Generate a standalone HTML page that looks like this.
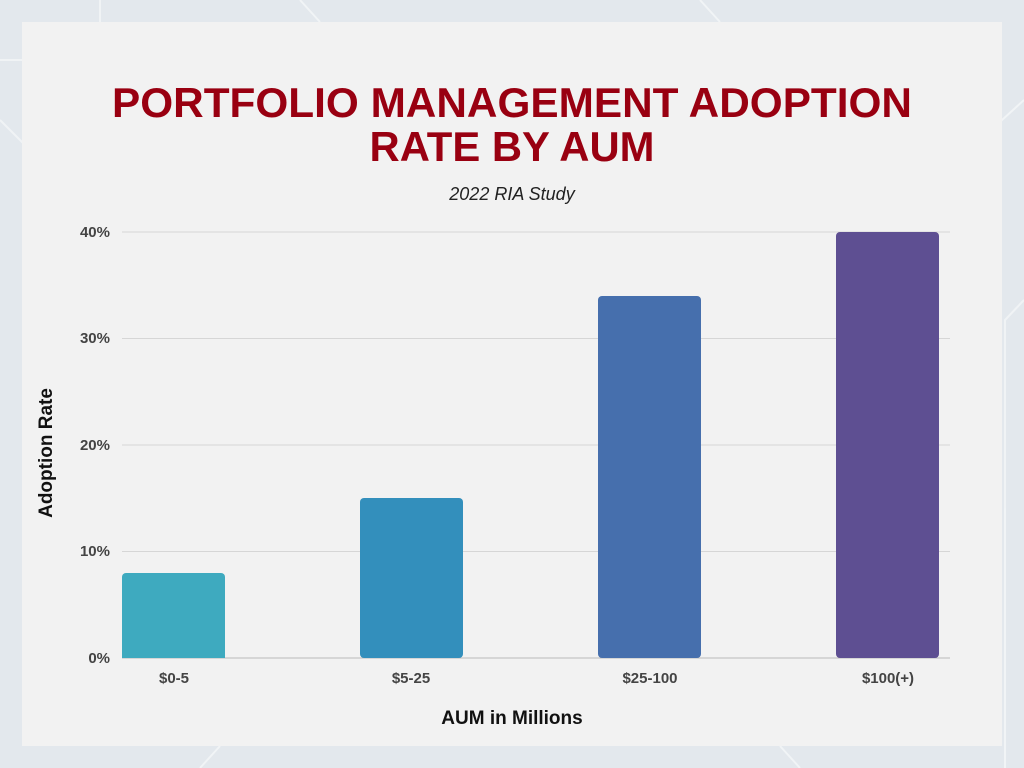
<!DOCTYPE html>
<html><head><meta charset="utf-8"><style>
html,body{margin:0;padding:0;width:1024px;height:768px;overflow:hidden;background:#e4e9ee;}
</style></head><body>
<svg width="1024" height="768" xmlns="http://www.w3.org/2000/svg" font-family="Liberation Sans, sans-serif">
<rect x="0" y="0" width="1024" height="768" fill="#e3e8ed"/>
<g stroke="#f4f6f8" stroke-width="2" fill="none" opacity="0.8">
<path d="M0 60 L60 60 L90 90 L90 300"/><path d="M0 120 L40 160 L40 700"/><path d="M1024 100 L980 140 L980 500"/><path d="M1024 300 L1005 320 L1005 768"/><path d="M100 0 L100 22"/><path d="M300 0 L320 22"/><path d="M700 0 L720 22"/><path d="M200 768 L220 746"/><path d="M800 768 L780 746"/>
</g>
<rect x="22" y="22" width="980" height="724" fill="#f2f2f2"/>
<text x="512" y="117" text-anchor="middle" font-size="42" font-weight="bold" fill="#990011" textLength="800" lengthAdjust="spacingAndGlyphs">PORTFOLIO MANAGEMENT ADOPTION</text>
<text x="512" y="161" text-anchor="middle" font-size="42" font-weight="bold" fill="#990011" textLength="285" lengthAdjust="spacingAndGlyphs">RATE BY AUM</text>
<text x="512" y="200" text-anchor="middle" font-size="18" font-style="italic" fill="#222">2022 RIA Study</text>
<g stroke="#d6d6d6" stroke-width="1">
<line x1="122" y1="232" x2="950" y2="232"/><line x1="122" y1="338.5" x2="950" y2="338.5"/><line x1="122" y1="445" x2="950" y2="445"/><line x1="122" y1="551.5" x2="950" y2="551.5"/><line x1="122" y1="658" x2="950" y2="658" stroke="#bbb"/>
</g>
<g font-size="15" font-weight="bold" fill="#444" text-anchor="end">
<text x="110" y="237">40%</text><text x="110" y="343">30%</text><text x="110" y="450">20%</text><text x="110" y="556">10%</text><text x="110" y="663">0%</text>
</g>
<rect x="122" y="573" width="103" height="85" rx="4" fill="#3eaabf"/>
<rect x="122" y="640" width="103" height="18" fill="#3eaabf"/>
<rect x="360" y="498" width="103" height="160" rx="4" fill="#338fbc"/>
<rect x="598" y="296" width="103" height="362" rx="4" fill="#466fad"/>
<rect x="836" y="232" width="103" height="426" rx="4" fill="#5e4f92"/>
<g font-size="15" font-weight="bold" fill="#444" text-anchor="middle">
<text x="174" y="683">$0-5</text><text x="411" y="683">$5-25</text><text x="650" y="683">$25-100</text><text x="888" y="683">$100(+)</text>
</g>
<text x="512" y="724" text-anchor="middle" font-size="19" font-weight="bold" fill="#111">AUM in Millions</text>
<text transform="translate(52,453) rotate(-90)" text-anchor="middle" font-size="19" font-weight="bold" fill="#111">Adoption Rate</text>
</svg>
</body></html>
